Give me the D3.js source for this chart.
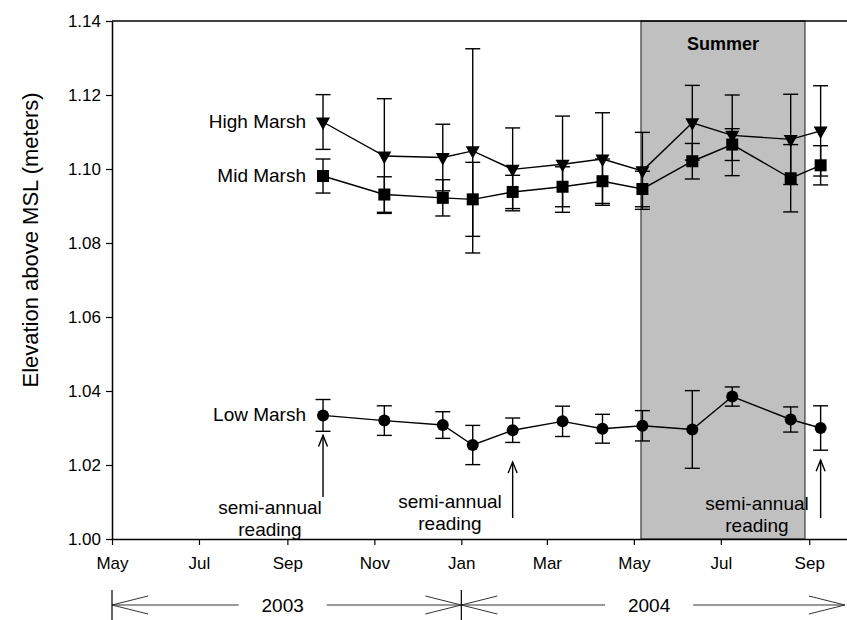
<!DOCTYPE html>
<html>
<head>
<meta charset="utf-8">
<script src="https://cdn.jsdelivr.net/npm/d3@7"></script>
<style>
  html, body { margin: 0; padding: 0; background: #fff; }
  svg { display: block; font-family: "Liberation Sans", Arial, Helvetica, sans-serif; }
</style>
</head>
<body>
<svg id="chart" width="847" height="620"></svg>
<script>
// Marsh surface elevation, sampled dates 2003-2004
const sampleDates = ["2003-09-26", "2003-11-08", "2003-12-19", "2004-01-09", "2004-02-06", "2004-03-12",
                     "2004-04-09", "2004-05-07", "2004-06-11", "2004-07-09", "2004-08-19", "2004-09-09"];

const highMarsh    = [1.1127, 1.1035, 1.1031, 1.1049, 1.0999, 1.1013, 1.1027, 1.0995, 1.1125, 1.1091, 1.1080, 1.1103];
const highMarshErr = [0.0074, 0.0155, 0.0090, 0.0276, 0.0112, 0.0130, 0.0125, 0.0104, 0.0101, 0.0109, 0.0122, 0.0122];

const midMarsh     = [1.0981, 1.0931, 1.0922, 1.0918, 1.0938, 1.0952, 1.0967, 1.0946, 1.1021, 1.1066, 1.0975, 1.1010];
const midMarshErr  = [0.0046, 0.0048, 0.0049, 0.0100, 0.0045, 0.0054, 0.0060, 0.0048, 0.0048, 0.0043, 0.0091, 0.0053];

const lowMarsh     = [1.0334, 1.0320, 1.0308, 1.0254, 1.0294, 1.0318, 1.0298, 1.0306, 1.0296, 1.0385, 1.0323, 1.0300];
const lowMarshErr  = [0.0043, 0.0040, 0.0036, 0.0053, 0.0033, 0.0041, 0.0039, 0.0041, 0.0105, 0.0026, 0.0034, 0.0060];

const yTicks = [1.00, 1.02, 1.04, 1.06, 1.08, 1.10, 1.12, 1.14];
const xTicks = ["2003-05-01", "2003-07-01", "2003-09-01", "2003-11-01", "2004-01-01",
                "2004-03-01", "2004-05-01", "2004-07-01", "2004-09-01"];

const summerPeriod = ["2004-05-06", "2004-08-29"];
const semiAnnualIdx = [0, 4, 11];           // samples marked as semi-annual readings
const semiAnnualTip = [1.0280, 1.0208, 1.0213];
const yearSpans = [["2003-05-01", "2004-01-01", "2003"], ["2004-01-01", "2004-09-26", "2004"]];

const parse = d3.timeParse("%Y-%m-%d");
const dates = sampleDates.map(parse);

const svg = d3.select("#chart");
const plotLeft = 112, plotTop = 21, plotBottom = 539, plotRight = 852;
const FONT = "Liberation Sans, Arial, sans-serif";

const x = d3.scaleTime()
  .domain([parse("2003-05-01"), parse("2004-10-01")])
  .range([plotLeft, plotRight]);
const y = d3.scaleLinear().domain([1.00, 1.14]).range([plotBottom, plotTop]);

// Summer shading
const sx0 = x(parse(summerPeriod[0])), sx1 = x(parse(summerPeriod[1]));
svg.append("rect")
  .attr("x", sx0)
  .attr("y", plotTop)
  .attr("width", sx1 - sx0)
  .attr("height", plotBottom - plotTop)
  .attr("fill", "#c0c0c0")
  .attr("stroke", "#3a3a3a")
  .attr("stroke-width", 1.2);

svg.append("text")
  .attr("x", (sx0 + sx1) / 2)
  .attr("y", 50)
  .attr("text-anchor", "middle")
  .attr("font-size", 18)
  .attr("font-weight", "bold")
  .text("Summer");

// Axes
const yAxis = d3.axisLeft(y).tickValues(yTicks).tickFormat(d3.format(".2f")).tickSize(6).tickSizeOuter(0).tickPadding(5);
const gy = svg.append("g").attr("transform", `translate(${plotLeft},0)`).call(yAxis);
gy.selectAll("text").attr("font-size", 17).attr("fill", "#000").attr("font-family", FONT);

const xAxis = d3.axisBottom(x).tickValues(xTicks.map(parse)).tickFormat(d3.timeFormat("%b")).tickSize(6).tickSizeOuter(0).tickPadding(12);
const gx = svg.append("g").attr("transform", `translate(0,${plotBottom})`).call(xAxis);
gx.selectAll("text").attr("font-size", 17).attr("fill", "#000").attr("font-family", FONT);

[gx, gy].forEach(g => {
  g.select(".domain").attr("stroke", "#000").attr("stroke-width", 1.5);
  g.selectAll(".tick line").attr("stroke", "#000").attr("stroke-width", 1.2);
});

// Top frame line
svg.append("line")
  .attr("x1", plotLeft).attr("x2", plotRight).attr("y1", plotTop).attr("y2", plotTop)
  .attr("stroke", "#000").attr("stroke-width", 1.5);

svg.append("text")
  .attr("transform", "translate(38,240) rotate(-90)")
  .attr("text-anchor", "middle")
  .attr("font-size", 22)
  .text("Elevation above MSL (meters)");

// Series
const series = [
  { name: "High Marsh", values: highMarsh, err: highMarshErr, shape: "tri" },
  { name: "Mid Marsh",  values: midMarsh,  err: midMarshErr,  shape: "sq" },
  { name: "Low Marsh",  values: lowMarsh,  err: lowMarshErr,  shape: "circ" }
];

const capHalf = 7.5;
series.forEach(s => {
  const g = svg.append("g");
  // error bars
  s.values.forEach((v, i) => {
    const cx = x(dates[i]);
    const y1 = y(v + s.err[i]), y2 = y(v - s.err[i]);
    g.append("line").attr("x1", cx).attr("x2", cx).attr("y1", y1).attr("y2", y2)
      .attr("stroke", "#000").attr("stroke-width", 1.4);
    [y1, y2].forEach(cy => g.append("line")
      .attr("x1", cx - capHalf).attr("x2", cx + capHalf).attr("y1", cy).attr("y2", cy)
      .attr("stroke", "#000").attr("stroke-width", 1.4));
  });
  // connecting line
  const line = d3.line().x((d, i) => x(dates[i])).y(d => y(d));
  g.append("path").datum(s.values).attr("d", line)
    .attr("fill", "none").attr("stroke", "#000").attr("stroke-width", 1.4);
  // markers
  s.values.forEach((v, i) => {
    const cx = x(dates[i]), cy = y(v);
    if (s.shape === "circ") {
      g.append("circle").attr("cx", cx).attr("cy", cy).attr("r", 6).attr("fill", "#000");
    } else if (s.shape === "sq") {
      g.append("rect").attr("x", cx - 6).attr("y", cy - 6).attr("width", 12).attr("height", 12).attr("fill", "#000");
    } else {
      g.append("path")
        .attr("d", `M${cx - 7},${cy - 4.5}L${cx + 7},${cy - 4.5}L${cx},${cy + 8}Z`)
        .attr("fill", "#000");
    }
  });
  // series label, right-aligned left of the first point
  g.append("text")
    .attr("x", x(dates[0]) - 17)
    .attr("y", y(s.values[0]) + 6)
    .attr("text-anchor", "end")
    .attr("font-size", 19)
    .text(s.name);
});

// Semi-annual reading arrows and labels
const labelCenters = [270, 450, 757];
const tailY = [497, 518, 518];
const labelBase = [514, 508, 510];
semiAnnualIdx.forEach((idx, k) => {
  const ax = x(dates[idx]);
  const tip = y(semiAnnualTip[k]);
  svg.append("line").attr("x1", ax).attr("x2", ax).attr("y1", tip).attr("y2", tailY[k])
    .attr("stroke", "#000").attr("stroke-width", 1.4);
  svg.append("path")
    .attr("d", `M${ax - 4.5},${tip + 11}L${ax},${tip}L${ax + 4.5},${tip + 11}`)
    .attr("fill", "none").attr("stroke", "#000").attr("stroke-width", 1.4);
  const t = svg.append("text").attr("text-anchor", "middle").attr("font-size", 19);
  t.append("tspan").attr("x", labelCenters[k]).attr("y", labelBase[k]).text("semi-annual");
  t.append("tspan").attr("x", labelCenters[k]).attr("y", labelBase[k] + 22).text("reading");
});

// Year span arrows under the time axis
const yearY = 605;
const headLen = 36, headHalf = 9;
const yg = svg.append("g");
yearSpans.forEach(([s, e, label]) => {
  const x0 = x(parse(s)), x1 = x(parse(e));
  const mid = (x0 + x1) / 2 - 4;
  const gap = 44;
  yg.append("line").attr("x1", x0).attr("x2", mid - gap).attr("y1", yearY).attr("y2", yearY)
    .attr("stroke", "#777").attr("stroke-width", 1.6);
  yg.append("line").attr("x1", mid + gap).attr("x2", x1).attr("y1", yearY).attr("y2", yearY)
    .attr("stroke", "#777").attr("stroke-width", 1.6);
  yg.append("path")
    .attr("d", `M${x0 + headLen},${yearY - headHalf}L${x0},${yearY}L${x0 + headLen},${yearY + headHalf}`)
    .attr("fill", "none").attr("stroke", "#333").attr("stroke-width", 1);
  yg.append("path")
    .attr("d", `M${x1 - headLen},${yearY - headHalf}L${x1},${yearY}L${x1 - headLen},${yearY + headHalf}`)
    .attr("fill", "none").attr("stroke", "#333").attr("stroke-width", 1);
  yg.append("text").attr("x", mid).attr("y", yearY + 7).attr("text-anchor", "middle")
    .attr("font-size", 19).text(label);
});
[yearSpans[0][0], yearSpans[0][1]].forEach(d => {
  const xv = x(parse(d));
  yg.append("line").attr("x1", xv).attr("x2", xv).attr("y1", 590).attr("y2", 620)
    .attr("stroke", "#000").attr("stroke-width", 1.2);
});
</script>
</body>
</html>
